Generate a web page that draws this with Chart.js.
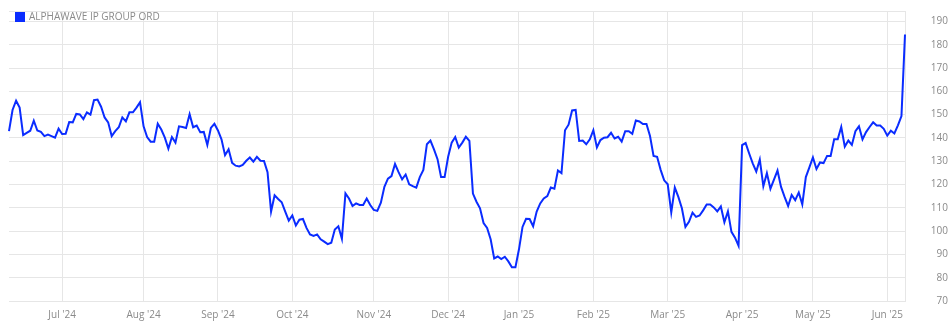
<!DOCTYPE html>
<html lang="en">
<head>
  <meta charset="utf-8"/>
  <title>Alphawave IP Group</title>
  <script src="https://cdn.jsdelivr.net/npm/chart.js"></script>
  <style>
    body { margin: 0; background: #fff; }
    #chart { width: 948px; height: 329px; }
  </style>
</head>
<body>
<div id="chart">
  <canvas id="my_chart" width="948" height="329"></canvas>
</div>
<script>
var seriesName = 'ALPHAWAVE IP GROUP ORD';

// closing prices, one per trading day, Jun '24 .. Jun '25
var prices = [
  142.9, 152.0, 156.0, 153.0, 141.2, 142.2, 143.1, 147.4, 143.2, 142.6,
  140.8, 141.4, 140.8, 140.1, 144.0, 141.7, 141.8, 146.8, 146.7, 150.3,
  150.1, 148.1, 151.0, 150.0, 156.2, 156.5, 153.4, 148.8, 146.7, 140.8,
  142.9, 144.6, 148.8, 147.1, 151.0, 151.0, 153.0, 155.3, 145.0, 140.4,
  138.4, 138.4, 146.1, 143.6, 140.1, 135.4, 140.4, 138.0, 145.0, 144.7,
  144.3, 150.2, 144.6, 145.3, 142.5, 142.6, 137.0, 144.3, 146.1, 143.2,
  139.4, 132.6, 135.1, 129.3, 128.1, 127.8, 128.4, 130.2, 131.6, 129.8,
  131.9, 130.2, 130.1, 125.3, 108.4, 115.4, 113.8, 112.4, 108.4, 104.5,
  106.7, 102.4, 104.9, 105.2, 101.4, 98.6, 97.9, 98.6, 96.5, 95.5,
  94.4, 95.0, 100.7, 102.1, 96.7, 116.2, 114.0, 110.8, 111.9, 111.2,
  111.2, 114.0, 111.2, 109.1, 108.7, 112.2, 119.0, 122.5, 123.6, 128.8,
  125.3, 122.2, 124.3, 120.1, 119.3, 118.7, 123.2, 126.3, 137.3, 138.9,
  135.1, 130.9, 123.2, 123.2, 131.9, 138.0, 140.4, 135.9, 138.0, 140.5,
  138.7, 116.1, 112.6, 109.8, 103.5, 101.4, 96.5, 88.3, 89.1, 88.0,
  89.0, 87.0, 84.5, 84.5, 92.2, 101.8, 105.3, 105.2, 102.1, 108.4,
  111.9, 114.0, 115.0, 118.7, 118.2, 126.0, 124.9, 143.3, 145.7, 151.8,
  152.0, 138.7, 138.9, 137.3, 139.4, 143.3, 135.9, 139.1, 140.1, 140.3,
  142.2, 139.8, 140.5, 138.4, 142.9, 142.9, 141.8, 147.5, 147.1, 146.0,
  146.0, 140.8, 132.3, 131.9, 126.3, 121.8, 120.1, 108.0, 118.7, 114.7,
  109.8, 101.8, 104.0, 107.9, 106.1, 106.7, 108.9, 111.4, 111.4, 110.2,
  108.5, 110.6, 103.8, 108.5, 99.7, 97.2, 93.7, 136.9, 137.8, 133.3,
  129.1, 125.6, 130.7, 119.3, 124.9, 118.2, 122.1, 126.0, 119.0, 114.7,
  110.8, 115.5, 113.3, 116.6, 111.5, 123.2, 127.4, 131.6, 126.7, 129.5,
  129.2, 132.3, 132.3, 139.4, 139.4, 144.7, 136.3, 138.9, 137.0, 142.9,
  145.0, 139.4, 142.5, 144.7, 146.7, 145.3, 145.3, 143.9, 141.0, 143.1,
  141.9, 145.4, 149.4, 184.4
];

// index of the first trading day of each month, and its label
var monthIdx = [15, 38, 59, 80, 103, 124, 144, 165, 186, 207, 227, 248];
var monthLabels = ["Jul '24", "Aug '24", "Sep '24", "Oct '24", "Nov '24", "Dec '24",
                   "Jan '25", "Feb '25", "Mar '25", "Apr '25", "May '25", "Jun '25"];

var yTicks = [70, 80, 90, 100, 110, 120, 130, 140, 150, 160, 170, 180, 190];
var yMin = 70, yMax = 194.5;

const LINE_BLUE = '#0a2cff';
const GRID = '#e6e6e6';
const TEXT = '#8a8a8a';

Chart.defaults.font.family = "'Open Sans', sans-serif";
Chart.defaults.font.size = 10;
Chart.defaults.color = TEXT;

// push the in-plot legend a little lower, like the original
const legendNudge = {
  id: 'legendNudge',
  afterLayout(chart) {
    if (chart.legend) chart.legend.top += 5;
  }
};

window.onload = function () {
  const config = {
    type: 'line',
    data: {
      labels: prices.map((p, i) => i),
      datasets: [{
        label: seriesName,
        data: prices,
        borderColor: LINE_BLUE,
        backgroundColor: LINE_BLUE,
        borderWidth: 2,
        pointRadius: 0,
        tension: 0,
        fill: false
      }]
    },
    options: {
      responsive: false,
      animation: false,
      layout: { padding: { left: 9, top: 6, right: 0, bottom: 0 } },
      plugins: {
        legend: {
          position: 'chartArea',
          align: 'start',
          labels: {
            boxWidth: 8,
            boxHeight: 8,
            padding: 7,
            color: TEXT,
            font: { size: 10 }
          }
        },
        tooltip: { enabled: false }
      },
      scales: {
        x: {
          type: 'category',
          afterFit: s => { s.height = 28; },
          grid: { color: GRID, drawTicks: false },
          border: { color: GRID },
          ticks: {
            autoSkip: false,
            maxRotation: 0,
            padding: 8,
            callback: function (v, i) {
              const k = monthIdx.indexOf(i);
              return k < 0 ? null : monthLabels[k];
            }
          }
        },
        y: {
          position: 'right',
          min: yMin,
          max: yMax,
          afterFit: s => { s.width = 43; },
          afterBuildTicks: s => {
            s.ticks = yTicks.concat([yMax]).map(v => ({ value: v }));
          },
          grid: { color: GRID, drawTicks: false },
          border: { color: GRID },
          ticks: {
            autoSkip: false,
            crossAlign: 'far',
            padding: 5,
            callback: v => (yTicks.indexOf(v) >= 0 ? v : '')
          }
        }
      }
    },
    plugins: [legendNudge]
  };

  const ctx = document.getElementById('my_chart').getContext('2d');
  new Chart(ctx, config);
};
</script>
</body>
</html>
